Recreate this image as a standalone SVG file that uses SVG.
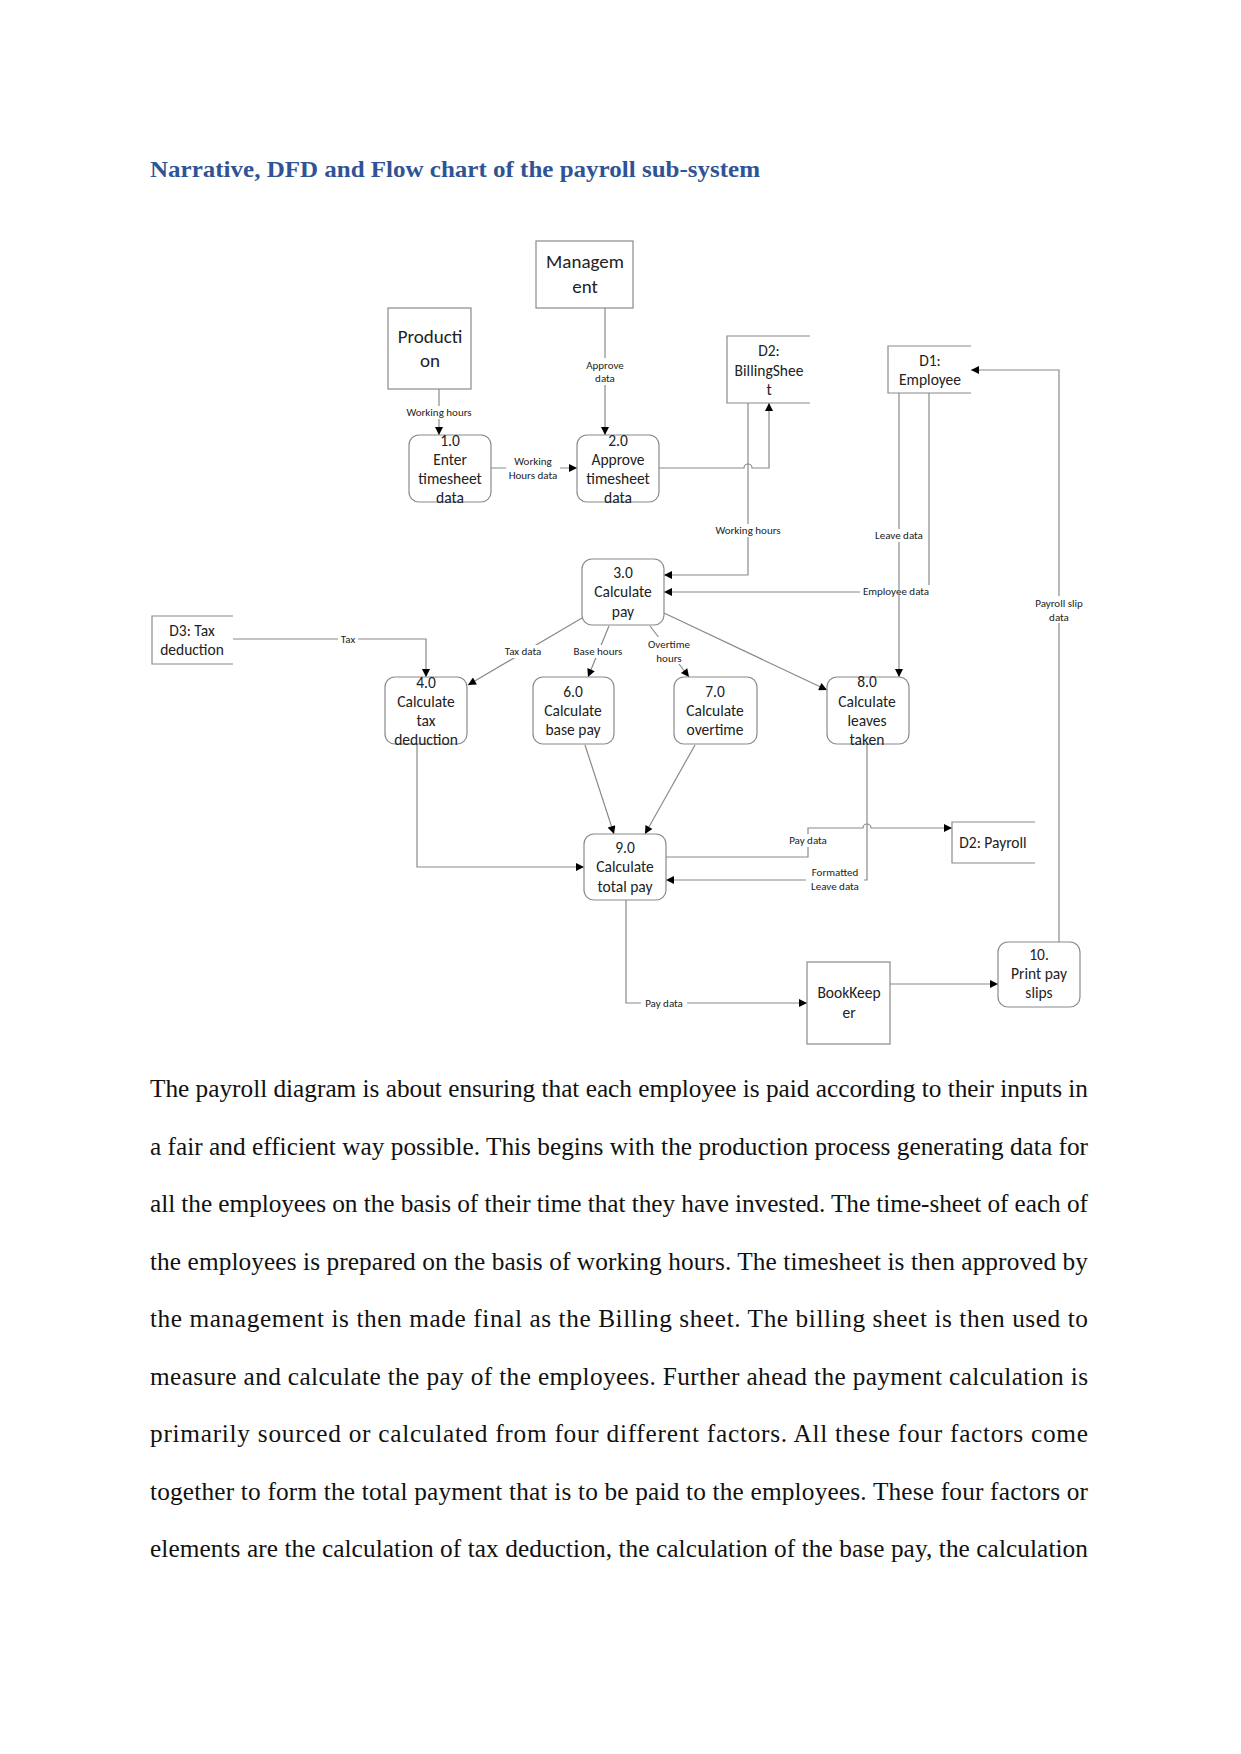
<svg xmlns="http://www.w3.org/2000/svg" width="1241" height="1754" viewBox="0 0 1241 1754">
<defs>
<style>
.bg{fill:#ffffff}
.title{font-family:"Liberation Serif","Times New Roman",serif;font-weight:bold;font-size:24px;fill:#2F5496}
.body{font-family:"Liberation Serif","Times New Roman",serif;font-size:25.3px;fill:#111111}
.ent{fill:#ffffff;stroke:#8a8a8a;stroke-width:1.2}
.proc{fill:#ffffff;stroke:#8a8a8a;stroke-width:1.2}
.store{fill:none;stroke:#8a8a8a;stroke-width:1.2}
.t{font-family:Carlito,Lato,"Open Sans",sans-serif;font-size:15.5px;fill:#222222;text-anchor:middle}
.tl{font-family:Carlito,Lato,"Open Sans",sans-serif;font-size:19px;fill:#222222;text-anchor:middle}
.lbl{font-family:Carlito,Lato,"Open Sans",sans-serif;font-size:11px;fill:#222222;text-anchor:middle}
.ln{fill:none;stroke:#8a8a8a;stroke-width:1.2}
.lb{fill:#ffffff}
</style>
<marker id="arr" viewBox="0 0 10 10" refX="10" refY="5" markerWidth="10" markerHeight="8" markerUnits="userSpaceOnUse" orient="auto">
<path d="M0,0 L10,5 L0,10 z" fill="#000000"/>
</marker>
</defs>
<rect class="bg" x="0" y="0" width="1241" height="1754"/>

<text class="title" x="150" y="177" textLength="610" lengthAdjust="spacingAndGlyphs">Narrative, DFD and Flow chart of the payroll sub-system</text>

<!-- connectors -->
<g id="connectors">
<path class="ln" d="M439,389 L439,435" marker-end="url(#arr)"/>
<rect class="lb" x="404" y="406" width="70" height="13"/>
<text class="lbl" x="439" y="416">Working hours</text>
<path class="ln" d="M605,308 L605,435" marker-end="url(#arr)"/>
<rect class="lb" x="584" y="358" width="42" height="27"/>
<text class="lbl" x="605" y="369">Approve</text>
<text class="lbl" x="605" y="382">data</text>
<path class="ln" d="M491,468 L577,468" marker-end="url(#arr)"/>
<rect class="lb" x="506" y="454" width="54" height="27"/>
<text class="lbl" x="533" y="465">Working</text>
<text class="lbl" x="533" y="479">Hours data</text>
<path class="ln" d="M659,468 L744,468 A4,4 0 0 1 752,468 L769,468 L769,403" marker-end="url(#arr)"/>
<path class="ln" d="M748,403 L748,575 L664,575" marker-end="url(#arr)"/>
<rect class="lb" x="712" y="524" width="72" height="13"/>
<text class="lbl" x="748" y="534">Working hours</text>
<path class="ln" d="M929,393 L929,592 L664,592" marker-end="url(#arr)"/>
<rect class="lb" x="860" y="585" width="72" height="13"/>
<text class="lbl" x="896" y="595">Employee data</text>
<path class="ln" d="M899,393 L899,677" marker-end="url(#arr)"/>
<rect class="lb" x="871" y="529" width="56" height="13"/>
<text class="lbl" x="899" y="539">Leave data</text>
<path class="ln" d="M1059,942 L1059,370 L971,370" marker-end="url(#arr)"/>
<rect class="lb" x="1030" y="596" width="58" height="27"/>
<text class="lbl" x="1059" y="607">Payroll slip</text>
<text class="lbl" x="1059" y="621">data</text>
<path class="ln" d="M233,639 L426,639 L426,677" marker-end="url(#arr)"/>
<rect class="lb" x="338" y="633" width="20" height="12"/>
<text class="lbl" x="348" y="643">Tax</text>
<path class="ln" d="M582,618 L468,685" marker-end="url(#arr)"/>
<rect class="lb" x="501" y="645" width="44" height="13"/>
<text class="lbl" x="523" y="655">Tax data</text>
<path class="ln" d="M609,626 L588,677" marker-end="url(#arr)"/>
<rect class="lb" x="571" y="645" width="54" height="13"/>
<text class="lbl" x="598" y="655">Base hours</text>
<path class="ln" d="M650,626 L689,677" marker-end="url(#arr)"/>
<rect class="lb" x="646" y="637" width="46" height="27"/>
<text class="lbl" x="669" y="648">Overtime</text>
<text class="lbl" x="669" y="662">hours</text>
<path class="ln" d="M664,613 L827,690" marker-end="url(#arr)"/>
<path class="ln" d="M417,744 L417,867 L584,867" marker-end="url(#arr)"/>
<path class="ln" d="M585,745 L614,834" marker-end="url(#arr)"/>
<path class="ln" d="M695,745 L645,834" marker-end="url(#arr)"/>
<path class="ln" d="M666,857 L808,857 L808,828 L863,828 A4,4 0 0 1 871,828 L952,828" marker-end="url(#arr)"/>
<rect class="lb" x="785" y="834" width="46" height="13"/>
<text class="lbl" x="808" y="844">Pay data</text>
<path class="ln" d="M867,744 L867,880 L666,880" marker-end="url(#arr)"/>
<rect class="lb" x="806" y="866" width="58" height="27"/>
<text class="lbl" x="835" y="876">Formatted</text>
<text class="lbl" x="835" y="890">Leave data</text>
<path class="ln" d="M626,900 L626,1003 L807,1003" marker-end="url(#arr)"/>
<rect class="lb" x="641" y="997" width="46" height="12"/>
<text class="lbl" x="664" y="1007">Pay data</text>
<path class="ln" d="M890,984 L998,984" marker-end="url(#arr)"/>
</g>

<g id="management">
<rect class="ent" x="536" y="241" width="97" height="67"/>
<text class="tl" x="585" y="268">Managem</text>
<text class="tl" x="585" y="293">ent</text>
</g>
<g id="production">
<rect class="ent" x="388" y="308" width="83" height="81"/>
<text class="tl" x="430" y="343">Producti</text>
<text class="tl" x="430" y="367">on</text>
</g>
<g id="bookkeeper">
<rect class="ent" x="807" y="962" width="83" height="82"/>
<text class="t" x="849" y="998">BookKeep</text>
<text class="t" x="849" y="1018">er</text>
</g>

<g id="d2-billing">
<path class="store" d="M810,336 L727,336 L727,403 L810,403"/>
<text class="t" x="769" y="356">D2:</text>
<text class="t" x="769" y="376">BillingShee</text>
<text class="t" x="769" y="395">t</text>
</g>
<g id="d1-employee">
<path class="store" d="M971,346 L888,346 L888,393 L971,393"/>
<text class="t" x="930" y="366">D1:</text>
<text class="t" x="930" y="385">Employee</text>
</g>
<g id="d3-tax">
<path class="store" d="M233,616 L152,616 L152,664 L233,664"/>
<text class="t" x="192" y="636">D3: Tax</text>
<text class="t" x="192" y="655">deduction</text>
</g>
<g id="d2-payroll">
<path class="store" d="M1035,822 L952,822 L952,863 L1035,863"/>
<text class="t" x="993" y="848">D2: Payroll</text>
</g>

<g id="p1">
<rect class="proc" x="409" y="435" width="82" height="67" rx="10"/>
<text class="t" x="450" y="446">1.0</text>
<text class="t" x="450" y="465">Enter</text>
<text class="t" x="450" y="484">timesheet</text>
<text class="t" x="450" y="503">data</text>
</g>
<g id="p2">
<rect class="proc" x="577" y="435" width="82" height="67" rx="10"/>
<text class="t" x="618" y="446">2.0</text>
<text class="t" x="618" y="465">Approve</text>
<text class="t" x="618" y="484">timesheet</text>
<text class="t" x="618" y="503">data</text>
</g>
<g id="p3">
<rect class="proc" x="582" y="559" width="82" height="66" rx="10"/>
<text class="t" x="623" y="578">3.0</text>
<text class="t" x="623" y="597">Calculate</text>
<text class="t" x="623" y="617">pay</text>
</g>
<g id="p4">
<rect class="proc" x="385" y="677" width="82" height="67" rx="10"/>
<text class="t" x="426" y="688">4.0</text>
<text class="t" x="426" y="707">Calculate</text>
<text class="t" x="426" y="726">tax</text>
<text class="t" x="426" y="745">deduction</text>
</g>
<g id="p6">
<rect class="proc" x="533" y="677" width="81" height="67" rx="10"/>
<text class="t" x="573" y="697">6.0</text>
<text class="t" x="573" y="716">Calculate</text>
<text class="t" x="573" y="735">base pay</text>
</g>
<g id="p7">
<rect class="proc" x="674" y="677" width="83" height="67" rx="10"/>
<text class="t" x="715" y="697">7.0</text>
<text class="t" x="715" y="716">Calculate</text>
<text class="t" x="715" y="735">overtime</text>
</g>
<g id="p8">
<rect class="proc" x="827" y="677" width="82" height="67" rx="10"/>
<text class="t" x="867" y="687">8.0</text>
<text class="t" x="867" y="707">Calculate</text>
<text class="t" x="867" y="726">leaves</text>
<text class="t" x="867" y="745">taken</text>
</g>
<g id="p9">
<rect class="proc" x="584" y="834" width="82" height="66" rx="10"/>
<text class="t" x="625" y="853">9.0</text>
<text class="t" x="625" y="872">Calculate</text>
<text class="t" x="625" y="892">total pay</text>
</g>
<g id="p10">
<rect class="proc" x="998" y="942" width="82" height="65" rx="10"/>
<text class="t" x="1039" y="960">10.</text>
<text class="t" x="1039" y="979">Print pay</text>
<text class="t" x="1039" y="998">slips</text>
</g>

<g id="narrative">
<text class="body" x="150" y="1097" textLength="938" lengthAdjust="spacing">The payroll diagram is about ensuring that each employee is paid according to their inputs in</text>
<text class="body" x="150" y="1155" textLength="938" lengthAdjust="spacing">a fair and efficient way possible. This begins with the production process generating data for</text>
<text class="body" x="150" y="1212" textLength="938" lengthAdjust="spacing">all the employees on the basis of their time that they have invested. The time-sheet of each of</text>
<text class="body" x="150" y="1270" textLength="938" lengthAdjust="spacing">the employees is prepared on the basis of working hours. The timesheet is then approved by</text>
<text class="body" x="150" y="1327" textLength="938" lengthAdjust="spacing">the management is then made final as the Billing sheet. The billing sheet is then used to</text>
<text class="body" x="150" y="1385" textLength="938" lengthAdjust="spacing">measure and calculate the pay of the employees. Further ahead the payment calculation is</text>
<text class="body" x="150" y="1442" textLength="938" lengthAdjust="spacing">primarily sourced or calculated from four different factors. All these four factors come</text>
<text class="body" x="150" y="1500" textLength="938" lengthAdjust="spacing">together to form the total payment that is to be paid to the employees. These four factors or</text>
<text class="body" x="150" y="1557" textLength="938" lengthAdjust="spacing">elements are the calculation of tax deduction, the calculation of the base pay, the calculation</text>
</g>
</svg>
